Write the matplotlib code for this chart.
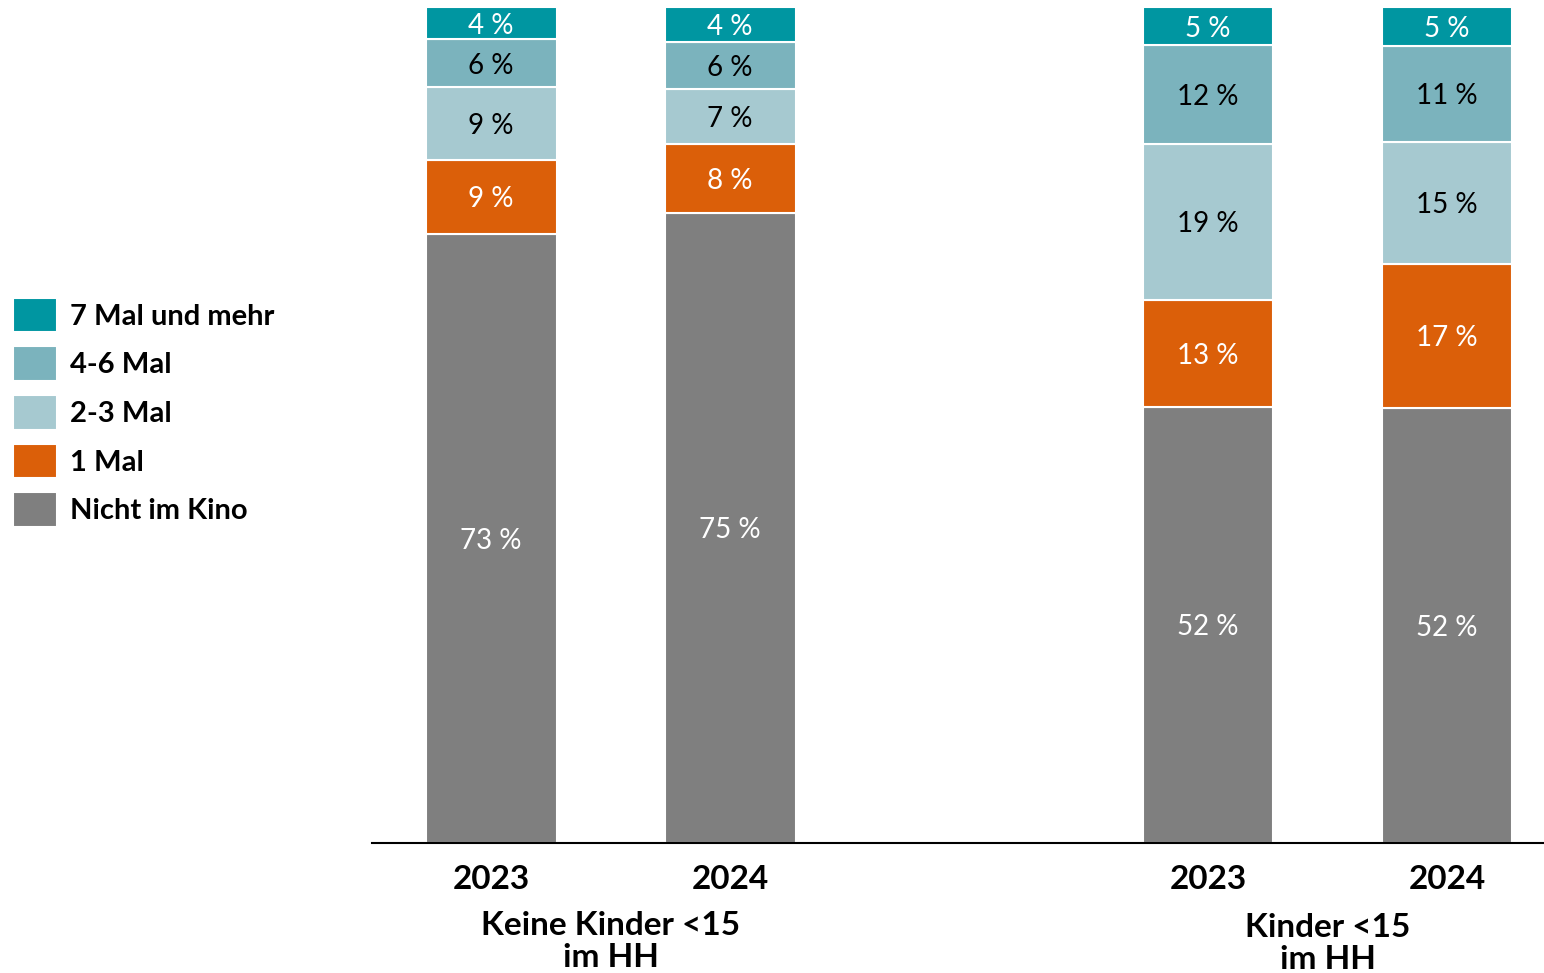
import matplotlib.pyplot as plt
import numpy as np

plt.rcParams['font.family'] = ['Lato', 'DejaVu Sans']

years = ['2023', '2024', '2023', '2024']
groups = ['Keine Kinder <15\nim HH', 'Kinder <15\nim HH']
categories = ['Nicht im Kino', '1 Mal', '2-3 Mal', '4-6 Mal', '7 Mal und mehr']

# shares in %, per bar (bottom to top)
nicht = [72.85, 75.4, 52.2, 52.0]
einmal = [8.85, 8.25, 12.8, 17.3]
zwei_drei = [8.73, 6.58, 18.6, 14.6]
vier_sechs = [5.74, 5.62, 11.8, 11.4]
sieben_plus = [3.83, 4.19, 4.6, 4.7]

colors = ['#7f7f7f', '#db5f09', '#a6c9d0', '#7bb3bd', '#0096a1']
text_colors = ['white', 'white', 'black', 'black', 'white']

xpos = np.array([0, 1, 3, 4])
series = [nicht, einmal, zwei_drei, vier_sechs, sieben_plus]

fig = plt.figure(figsize=(15.44, 9.73), dpi=100)
ax = fig.add_axes([0.241, 0.1336, 0.759, 0.8592])

bottom = np.zeros(len(xpos))
handles = []
for vals, col, tcol, name in zip(series, colors, text_colors, categories):
    vals = np.array(vals)
    b = ax.bar(xpos, vals, bottom=bottom, width=0.548, color=col,
               edgecolor='white', linewidth=1.5, label=name)
    handles.append(b)
    for x, v, y0 in zip(xpos, vals, bottom):
        ax.text(x, y0 + v / 2, f"{round(v)} %", ha='center', va='center_baseline',
                fontsize=20, color=tcol)
    bottom += vals

ax.set_xlim(-0.498, 4.406)
ax.set_ylim(0, 100)
ax.set_yticks([])
ax.set_xticks(xpos)
ax.set_xticklabels(years, fontsize=24, fontweight='bold')
ax.tick_params(axis='x', length=0, pad=16)
for s in ['top', 'right', 'left']:
    ax.spines[s].set_visible(False)
ax.spines['bottom'].set_linewidth(1.5)
ax.spines['bottom'].set_color('black')

trans = ax.get_xaxis_transform()
ax.text(0.5, -0.118, groups[0], transform=trans, ha='center', va='center',
        fontsize=24, fontweight='bold', linespacing=1.1)
ax.text(3.5, -0.12, groups[1], transform=trans, ha='center', va='center',
        fontsize=24, fontweight='bold', linespacing=1.1)

fig.legend(handles[::-1], categories[::-1], loc='upper left',
           bbox_to_anchor=(0.0085, 0.694), frameon=False, borderpad=0,
           borderaxespad=0, handlelength=1.5, handleheight=1.45,
           handletextpad=0.45, labelspacing=0.48,
           prop={'size': 21, 'weight': 'bold'})

plt.savefig('out.png', dpi=100)
